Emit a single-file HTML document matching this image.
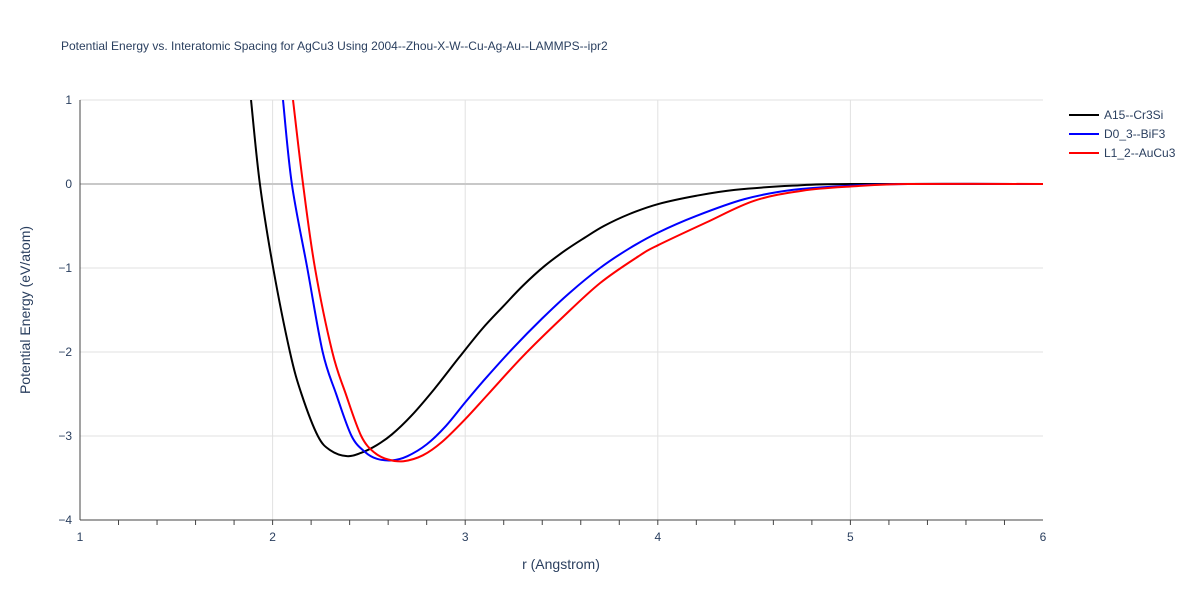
<!DOCTYPE html>
<html><head><meta charset="utf-8"><style>
body{margin:0;background:#fff;font-family:"Liberation Sans",sans-serif}
svg text{font-family:"Liberation Sans",sans-serif;fill:#2a3f5f}
</style></head><body>
<svg width="1200" height="600" id="c">
<rect width="1200" height="600" fill="#fff"/>
<text x="61" y="50" font-size="12">Potential Energy vs. Interatomic Spacing for AgCu3 Using 2004--Zhou-X-W--Cu-Ag-Au--LAMMPS--ipr2</text>
<g id="grid"></g><g id="ser"></g><g id="axes"></g>
<text x="561" y="569" font-size="14" text-anchor="middle">r (Angstrom)</text>
<text transform="translate(30,310) rotate(-90)" font-size="14" text-anchor="middle">Potential Energy (eV/atom)</text>
<g id="legend"></g>
</svg>
<script>
const seriesNames=["A15--Cr3Si","D0_3--BiF3","L1_2--AuCu3"];
const colors=["#000000","#0000ff","#ff0000"];
const rA=[1.888,1.934,2.003,2.09,2.15,2.235,2.3,2.386,2.46,2.54,2.62,2.72,2.84,2.97,3.09,3.2,3.3,3.41,3.52,3.62,3.72,3.85,4.0,4.2,4.4,4.7,5.0,6.0];
const eA=[1.0,0.0,-1.0,-2.0,-2.5,-3.0,-3.17,-3.24,-3.2,-3.11,-2.98,-2.76,-2.44,-2.06,-1.72,-1.45,-1.21,-0.98,-0.79,-0.64,-0.5,-0.36,-0.24,-0.14,-0.07,-0.02,0.0,0.0];
const rB=[2.054,2.1,2.18,2.26,2.33,2.41,2.48,2.54,2.62,2.7,2.8,2.9,3.0,3.1,3.25,3.4,3.54,3.7,3.85,4.0,4.2,4.45,4.7,5.0,5.3,6.0];
const eB=[1.0,0.0,-1.0,-2.0,-2.5,-3.0,-3.19,-3.27,-3.29,-3.24,-3.1,-2.88,-2.6,-2.33,-1.95,-1.6,-1.3,-1.0,-0.77,-0.58,-0.38,-0.18,-0.07,-0.02,0.0,0.0];
const rC=[2.106,2.158,2.22,2.31,2.38,2.46,2.53,2.6,2.68,2.78,2.88,3.0,3.12,3.3,3.5,3.7,3.9,4.0,4.25,4.5,4.75,5.0,5.3,6.0];
const eC=[1.0,0.0,-1.0,-2.0,-2.5,-3.0,-3.2,-3.28,-3.3,-3.23,-3.07,-2.8,-2.5,-2.05,-1.6,-1.18,-0.86,-0.73,-0.46,-0.2,-0.08,-0.03,0.0,0.0];
const xTicks=[1,2,3,4,5,6];
const yTicks=[-4,-3,-2,-1,0,1];
const X=r=>80+(r-1)*192.6, Y=e=>184-e*84;
const NS="http://www.w3.org/2000/svg";
function mk(t,a,p){const e=document.createElementNS(NS,t);for(const k in a)e.setAttribute(k,a[k]);p.appendChild(e);return e;}
const grid=document.getElementById('grid'),axes=document.getElementById('axes'),ser=document.getElementById('ser'),leg=document.getElementById('legend');
xTicks.forEach(v=>{
 if(v>1&&v<6){const l=mk('line',{x1:X(v),x2:X(v),y1:100,y2:520,stroke:'#e1e1e1'},grid);
 
 }
 const t=mk('text',{x:X(v),y:541,'font-size':12,'text-anchor':'middle'},axes);t.textContent=v;
 
 
});
for(let v=1.2;v<6;v+=0.2){mk('line',{x1:X(v),x2:X(v),y1:520,y2:525,stroke:'#444'},axes);}
yTicks.forEach(v=>{
 const l=mk('line',{x1:80,x2:1043,y1:Y(v),y2:Y(v),stroke:v==0?'#c8c8c8':'#e1e1e1','stroke-width':v==0?2:1},grid);
 
 
 const t=mk('text',{x:72,y:Y(v)+4,'font-size':12,'text-anchor':'end'},axes);t.textContent=v==0?'0':(v<0?'−'+(-v):v);
 
 
});
mk('line',{x1:80,x2:1043,y1:520,y2:520,stroke:'#444'},axes);
mk('line',{x1:80,x2:80,y1:100,y2:520,stroke:'#444'},axes);
function path(rs,es){const p=rs.map((r,i)=>[X(r),Y(es[i])]);let d='M'+p[0];
 for(let i=0;i<p.length-1;i++){const p0=p[i-1]||p[i],p1=p[i],p2=p[i+1],p3=p[i+2]||p2;
  d+=`C${p1[0]+(p2[0]-p0[0])/6},${p1[1]+(p2[1]-p0[1])/6} ${p2[0]-(p3[0]-p1[0])/6},${p2[1]-(p3[1]-p1[1])/6} ${p2[0]},${p2[1]}`;}
 return d;}
const cp=mk('clipPath',{id:'clip'},document.getElementById('c'));mk('rect',{x:80,y:100,width:963,height:420},cp);
[[rA,eA],[rB,eB],[rC,eC]].forEach((s,i)=>{
 const p=mk('path',{d:path(s[0],s[1]),fill:'none',stroke:colors[i],'stroke-width':2,'clip-path':'url(#clip)'},ser);
 
 
 const g=mk('g',{},leg);
 
 
 mk('line',{x1:1069,x2:1099,y1:115+i*19,y2:115+i*19,stroke:colors[i],'stroke-width':2},g);
 const t=mk('text',{x:1104,y:119+i*19,'font-size':12},g);t.textContent=seriesNames[i];
});
</script>
</body></html>
